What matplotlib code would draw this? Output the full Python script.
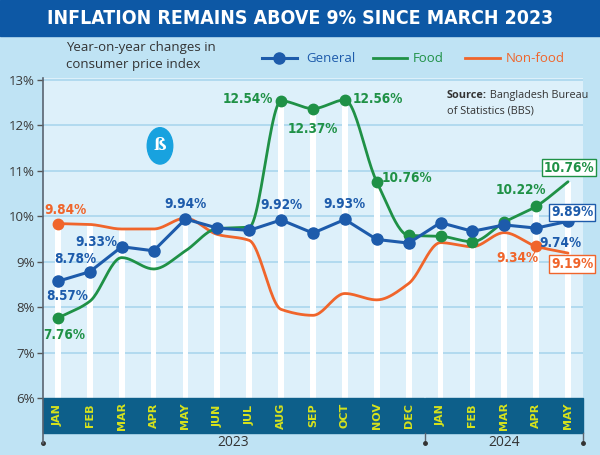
import numpy as np
import matplotlib
matplotlib.use("Agg")
import matplotlib.pyplot as plt
from matplotlib import font_manager
from matplotlib.font_manager import FontProperties
from matplotlib.patches import Rectangle, Circle
from matplotlib.lines import Line2D

# data ---------------------------------------------------------------
months = ["JAN", "FEB", "MAR", "APR", "MAY", "JUN", "JUL", "AUG", "SEP", "OCT", "NOV", "DEC",
          "JAN", "FEB", "MAR", "APR", "MAY"]
years = ["2023", "2024"]
general = [8.57, 8.78, 9.33, 9.24, 9.94, 9.74, 9.69, 9.92, 9.63, 9.93, 9.49, 9.41,
           9.86, 9.67, 9.81, 9.74, 9.89]
food = [7.76, 8.13, 9.09, 8.84, 9.24, 9.73, 9.76, 12.54, 12.37, 12.56, 10.76, 9.58,
        9.56, 9.44, 9.87, 10.22, 10.76]
nonfood = [9.84, 9.82, 9.72, 9.72, 9.96, 9.60, 9.47, 7.95, 7.82, 8.30, 8.16, 8.52,
           9.42, 9.33, 9.64, 9.34, 9.19]
yticks = [6, 7, 8, 9, 10, 11, 12, 13]

C_GEN = "#1d5bab"
C_FOOD = "#1f9146"
C_NON = "#f0652b"
BG = "#bfe3f4"
PLOT_BG = "#ddf0fa"


def narrow_font():
    # look for any condensed / narrow bold face that is installed
    best = None
    for f in font_manager.fontManager.ttflist:
        nm = f.name.lower()
        st = str(f.stretch).lower()
        narrow = ("narrow" in nm or "condensed" in nm or "condensed" in st or "narrow" in st
                  or (isinstance(f.stretch, (int, float)) and f.stretch < 500))
        if not narrow:
            continue
        w = f.weight if isinstance(f.weight, (int, float)) else (700 if "bold" in str(f.weight) else 400)
        if "italic" in str(f.style) or "oblique" in str(f.style):
            continue
        score = abs(w - 700)
        if best is None or score < best[0]:
            best = (score, f.fname)
    if best is not None:
        return FontProperties(fname=best[1])
    names = set(f.name for f in font_manager.fontManager.ttflist)
    fam = "Roboto" if "Roboto" in names else "DejaVu Sans"
    return FontProperties(family=fam, weight="bold")


NARROW = narrow_font()
names = set(f.name for f in font_manager.fontManager.ttflist)
SANS = "Open Sans" if "Open Sans" in names else "DejaVu Sans"


def smooth(y, n=24):
    # monotone cubic (fritsch-carlson) through the points, only for drawing
    y = np.asarray(y, float)
    m = len(y)
    d = np.diff(y)
    tang = np.zeros(m)
    tang[0], tang[-1] = d[0], d[-1]
    for i in range(1, m - 1):
        if d[i - 1] * d[i] > 0:
            tang[i] = 2 * d[i - 1] * d[i] / (d[i - 1] + d[i])
    xs, ys = [], []
    s = np.linspace(0, 1, n, endpoint=False)
    h00 = 2 * s**3 - 3 * s**2 + 1
    h10 = s**3 - 2 * s**2 + s
    h01 = -2 * s**3 + 3 * s**2
    h11 = s**3 - s**2
    for i in range(m - 1):
        xs.extend(i + s)
        ys.extend(h00 * y[i] + h10 * tang[i] + h01 * y[i + 1] + h11 * tang[i + 1])
    xs.append(m - 1)
    ys.append(y[-1])
    return np.array(xs), np.array(ys)


fig = plt.figure(figsize=(6, 4.55), dpi=100, facecolor=BG)
W, H = 600.0, 455.0
renderer = fig.canvas.get_renderer()

# title banner
fig.patches.append(Rectangle((0, 1 - 36 / H), 1, 36 / H, transform=fig.transFigure,
                             color="#0d58a5", zorder=0))
title = fig.text(0.5, 1 - 19 / H, "INFLATION REMAINS ABOVE 9% SINCE MARCH 2023", color="white",
                 fontproperties=NARROW, fontsize=20, ha="center", va="center")
tw = title.get_window_extent(renderer).width
title.set_fontsize(min(20 * 505 / tw, 24))

ax = fig.add_axes([43 / W, (H - 398) / H, 540 / W, 320 / H])
ax.set_facecolor(PLOT_BG)
x = np.arange(len(months))
ax.set_xlim(-0.47, 16.47)
ax.set_ylim(6, 13.044)

for yy in yticks[1:]:
    ax.axhline(yy, color="#a6d4ec", lw=1.1, zorder=1)

top = np.max([general, food, nonfood], axis=0)
ax.bar(x, top - 6, bottom=6, width=0.18, color="white", zorder=2)

# lines
fx, fy = smooth(food)
nx, ny = smooth(nonfood)
ax.plot(nx, ny, color=C_NON, lw=2, zorder=3, solid_capstyle="round")
ax.plot(fx, fy, color=C_FOOD, lw=2, zorder=4, solid_capstyle="round")
ax.plot(x, general, color=C_GEN, lw=2.2, marker="o", ms=8, zorder=5)
food_pts = [0, 7, 8, 9, 10, 11, 12, 13, 14, 15]
ax.plot(x[food_pts], np.array(food)[food_pts], "o", color=C_FOOD, ms=7.5, zorder=4.5)
non_pts = [0, 15]
ax.plot(x[non_pts], np.array(nonfood)[non_pts], "o", color=C_NON, ms=7.5, zorder=3.5)

ax.set_xticks([])
ax.set_yticks(yticks)
ax.set_yticklabels([f"{v}%" for v in yticks], family=SANS, fontsize=9.5, color="#3a3a3a")
ax.tick_params(axis="y", length=4, width=1, color="#555555", pad=2)
for s in ["top", "right", "bottom"]:
    ax.spines[s].set_visible(False)
ax.spines["left"].set_color("#5a6470")
ax.spines["left"].set_linewidth(1.2)
ax.spines["left"].set_bounds(5.0, 13.044)

# month band
band_lo = 6 - 35 / 45.43
ax.add_patch(Rectangle((-0.47, band_lo), 11.95, 6 - band_lo, color="#0d5f8a",
                       clip_on=False, zorder=2))
ax.add_patch(Rectangle((11.52, band_lo), 4.95, 6 - band_lo, color="#0d5f8a",
                       clip_on=False, zorder=2))
for i, m in enumerate(months):
    ax.text(i, (6 + band_lo) / 2, m, rotation=90, ha="center", va="center", color="#d6e21c",
            fontsize=8, fontweight="bold", family="DejaVu Sans", clip_on=False)
# year axis
yr = 6 - 45 / 45.43
ax.plot([11.5, 11.5], [band_lo, yr], color="#5a6470", lw=1, clip_on=False)
ax.plot([16.47, 16.47], [band_lo, yr], color="#5a6470", lw=1, clip_on=False)
ax.plot([-0.47, 11.5, 16.47], [yr, yr, yr], "o", color="#333333", ms=2.5, clip_on=False)
ax.text(5.5, yr + 0.02, years[0], ha="center", va="center", fontsize=10, color="#333333",
        family=SANS, clip_on=False)
ax.text(14, yr + 0.02, years[1], ha="center", va="center", fontsize=10, color="#333333",
        family=SANS, clip_on=False)

# value labels, size fitted so "9.94%" is about 42 px wide
probe = fig.text(0, 0, "9.94%", fontproperties=NARROW, fontsize=12)
pw = probe.get_window_extent(renderer).width
probe.remove()
LSIZE = min(12 * 42 / pw, 13.5)


def label(i, v, dx, dy, c, box=False):
    # dx, dy in pixels from the point
    kw = dict(fontproperties=NARROW, fontsize=LSIZE, zorder=6)
    if box:
        kw["bbox"] = dict(boxstyle="square,pad=0.12", fc="white", ec=c, lw=1)
    ax.annotate(f"{v:.2f}%", (i, v), xytext=(dx * 0.72, dy * 0.72), textcoords="offset points",
                ha="center", va="center", color=c, **kw)


label(0, general[0], 9, -15, C_GEN)
label(1, general[1], -15, 13, C_GEN)
label(2, general[2], -25, 5, C_GEN)
label(4, general[4], 0, 15, C_GEN)
label(7, general[7], 0, 15, C_GEN)
label(9, general[9], 0, 15, C_GEN)
label(15, general[15], 24, -15, C_GEN)
label(16, general[16], 4, 9, C_GEN, box=True)
label(0, food[0], 6, -17, C_FOOD)
label(7, food[7], -33, 2, C_FOOD)
label(8, food[8], 0, -20, C_FOOD)
label(9, food[9], 33, 1, C_FOOD)
label(10, food[10], 30, 4, C_FOOD)
label(15, food[15], -15, 16, C_FOOD)
label(16, food[16], 1, 14, C_FOOD, box=True)
label(0, nonfood[0], 8, 14, C_NON)
label(15, nonfood[15], -19, -12, C_NON)
label(16, nonfood[16], 4, -11, C_NON, box=True)

# logo
ax.add_patch(Circle((3.2, 11.55), 0.4, transform=ax.transData, color="#18a2df", zorder=2))
ax.text(3.2, 11.55, "ß", ha="center", va="center", color="white", fontsize=12,
        fontweight="bold", family="DejaVu Serif", zorder=3)

# source
src = ax.text(12.2, 12.65, "Source:", fontsize=7.8, fontweight="bold", color="#333333",
              family=SANS, va="center")
sw = src.get_window_extent(renderer).width / 31.875
ax.text(12.2 + sw, 12.65, " Bangladesh Bureau", fontsize=7.8, color="#333333", family=SANS,
        va="center")
ax.text(12.2, 12.32, "of Statistics (BBS)", fontsize=7.8, color="#333333", family=SANS,
        va="center")

# header text and legend
fig.text(66 / W, 1 - 48 / H, "Year-on-year changes in", fontsize=9.5, color="#333333",
         family=SANS, va="center")
fig.text(66 / W, 1 - 65 / H, "consumer price index", fontsize=9.5, color="#333333",
         family=SANS, va="center")
ly = 1 - 58 / H
fig.lines.append(Line2D([262 / W, 297 / W], [ly, ly], color=C_GEN, lw=2.2,
                        transform=fig.transFigure))
fig.lines.append(Line2D([279 / W], [ly], color=C_GEN, marker="o", ms=8,
                        transform=fig.transFigure))
fig.text(306 / W, ly, "General", color=C_GEN, fontsize=9.5, family=SANS, va="center")
fig.lines.append(Line2D([373 / W, 407 / W], [ly, ly], color=C_FOOD, lw=2,
                        transform=fig.transFigure))
fig.text(413 / W, ly, "Food", color=C_FOOD, fontsize=9.5, family=SANS, va="center")
fig.lines.append(Line2D([465 / W, 500 / W], [ly, ly], color=C_NON, lw=2,
                        transform=fig.transFigure))
fig.text(506 / W, ly, "Non-food", color=C_NON, fontsize=9.5, family=SANS, va="center")

fig.savefig("out.png", dpi=100, facecolor=BG)
